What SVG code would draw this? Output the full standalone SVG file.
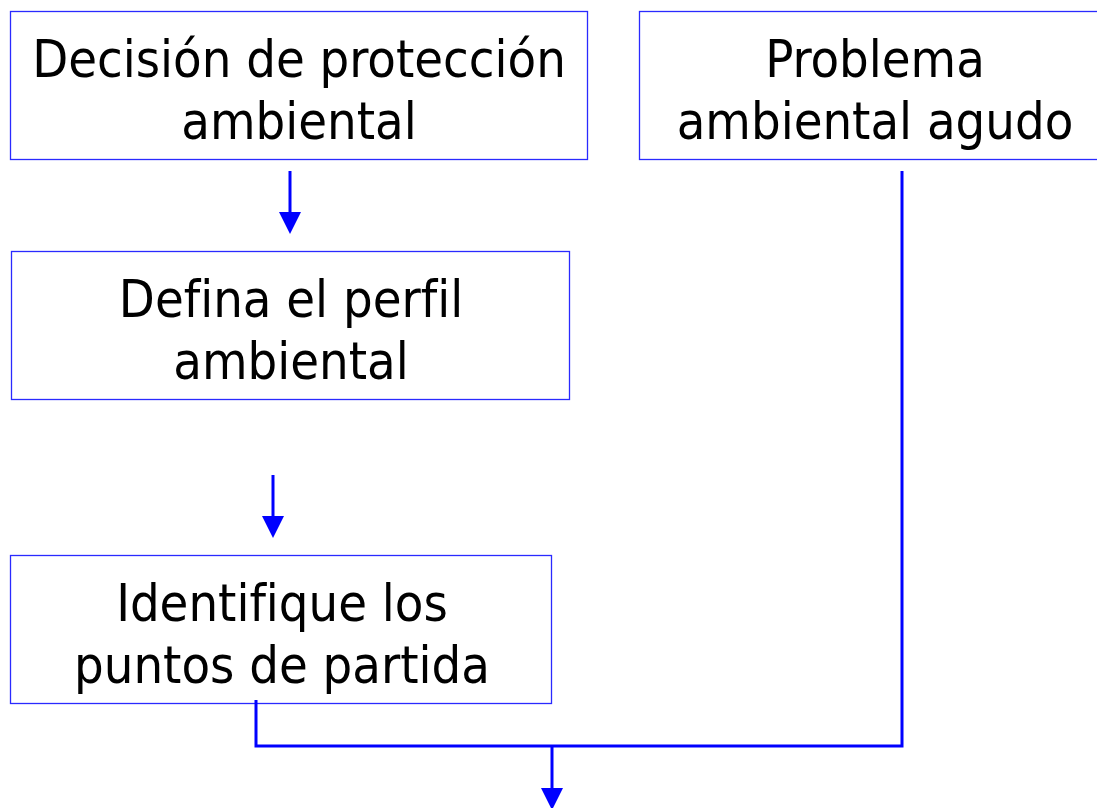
<svg xmlns="http://www.w3.org/2000/svg" width="1097" height="808" viewBox="0 0 1097 808">
<style>
.box{fill:#fff;stroke:#2a2aff;stroke-width:1.3}
.t{font-family:"DejaVu Sans Condensed","DejaVu Sans",sans-serif;font-size:52px;fill:#000;text-anchor:middle;font-variant-ligatures:none;font-feature-settings:"liga" 0}
.c{fill:none;stroke:#0000ff;stroke-width:3}
.h{fill:#0000ff}
</style>
<rect width="1097" height="808" fill="#fff"/>
<g id="n1"><rect class="box" x="10.5" y="11.5" width="577" height="148"/>
<text class="t" x="299" y="77">Decisión de protección</text>
<text class="t" x="299" y="139">ambiental</text></g>
<g id="n2"><rect class="box" x="639.5" y="11.5" width="470" height="148"/>
<text class="t" x="875" y="77">Problema</text>
<text class="t" x="875" y="139">ambiental agudo</text></g>
<g id="n3"><rect class="box" x="11.5" y="251.5" width="558" height="148"/>
<text class="t" x="291" y="317">Defina el perfil</text>
<text class="t" x="291" y="379">ambiental</text></g>
<g id="n4"><rect class="box" x="10.5" y="555.5" width="541" height="148"/>
<text class="t" x="282" y="621">Identifique los</text>
<text class="t" x="282" y="683">puntos de partida</text></g>
<g id="connectors">
<path class="c" d="M290 171V213"/>
<polygon class="h" points="279,212 301,212 290,234"/>
<path class="c" d="M273 475V517"/>
<polygon class="h" points="262,516 284,516 273,538"/>
<path class="c" d="M256 700V746H902V171"/>
<path class="c" d="M552 746V790"/>
<polygon class="h" points="541,788 563,788 552,810"/>
</g>
</svg>
